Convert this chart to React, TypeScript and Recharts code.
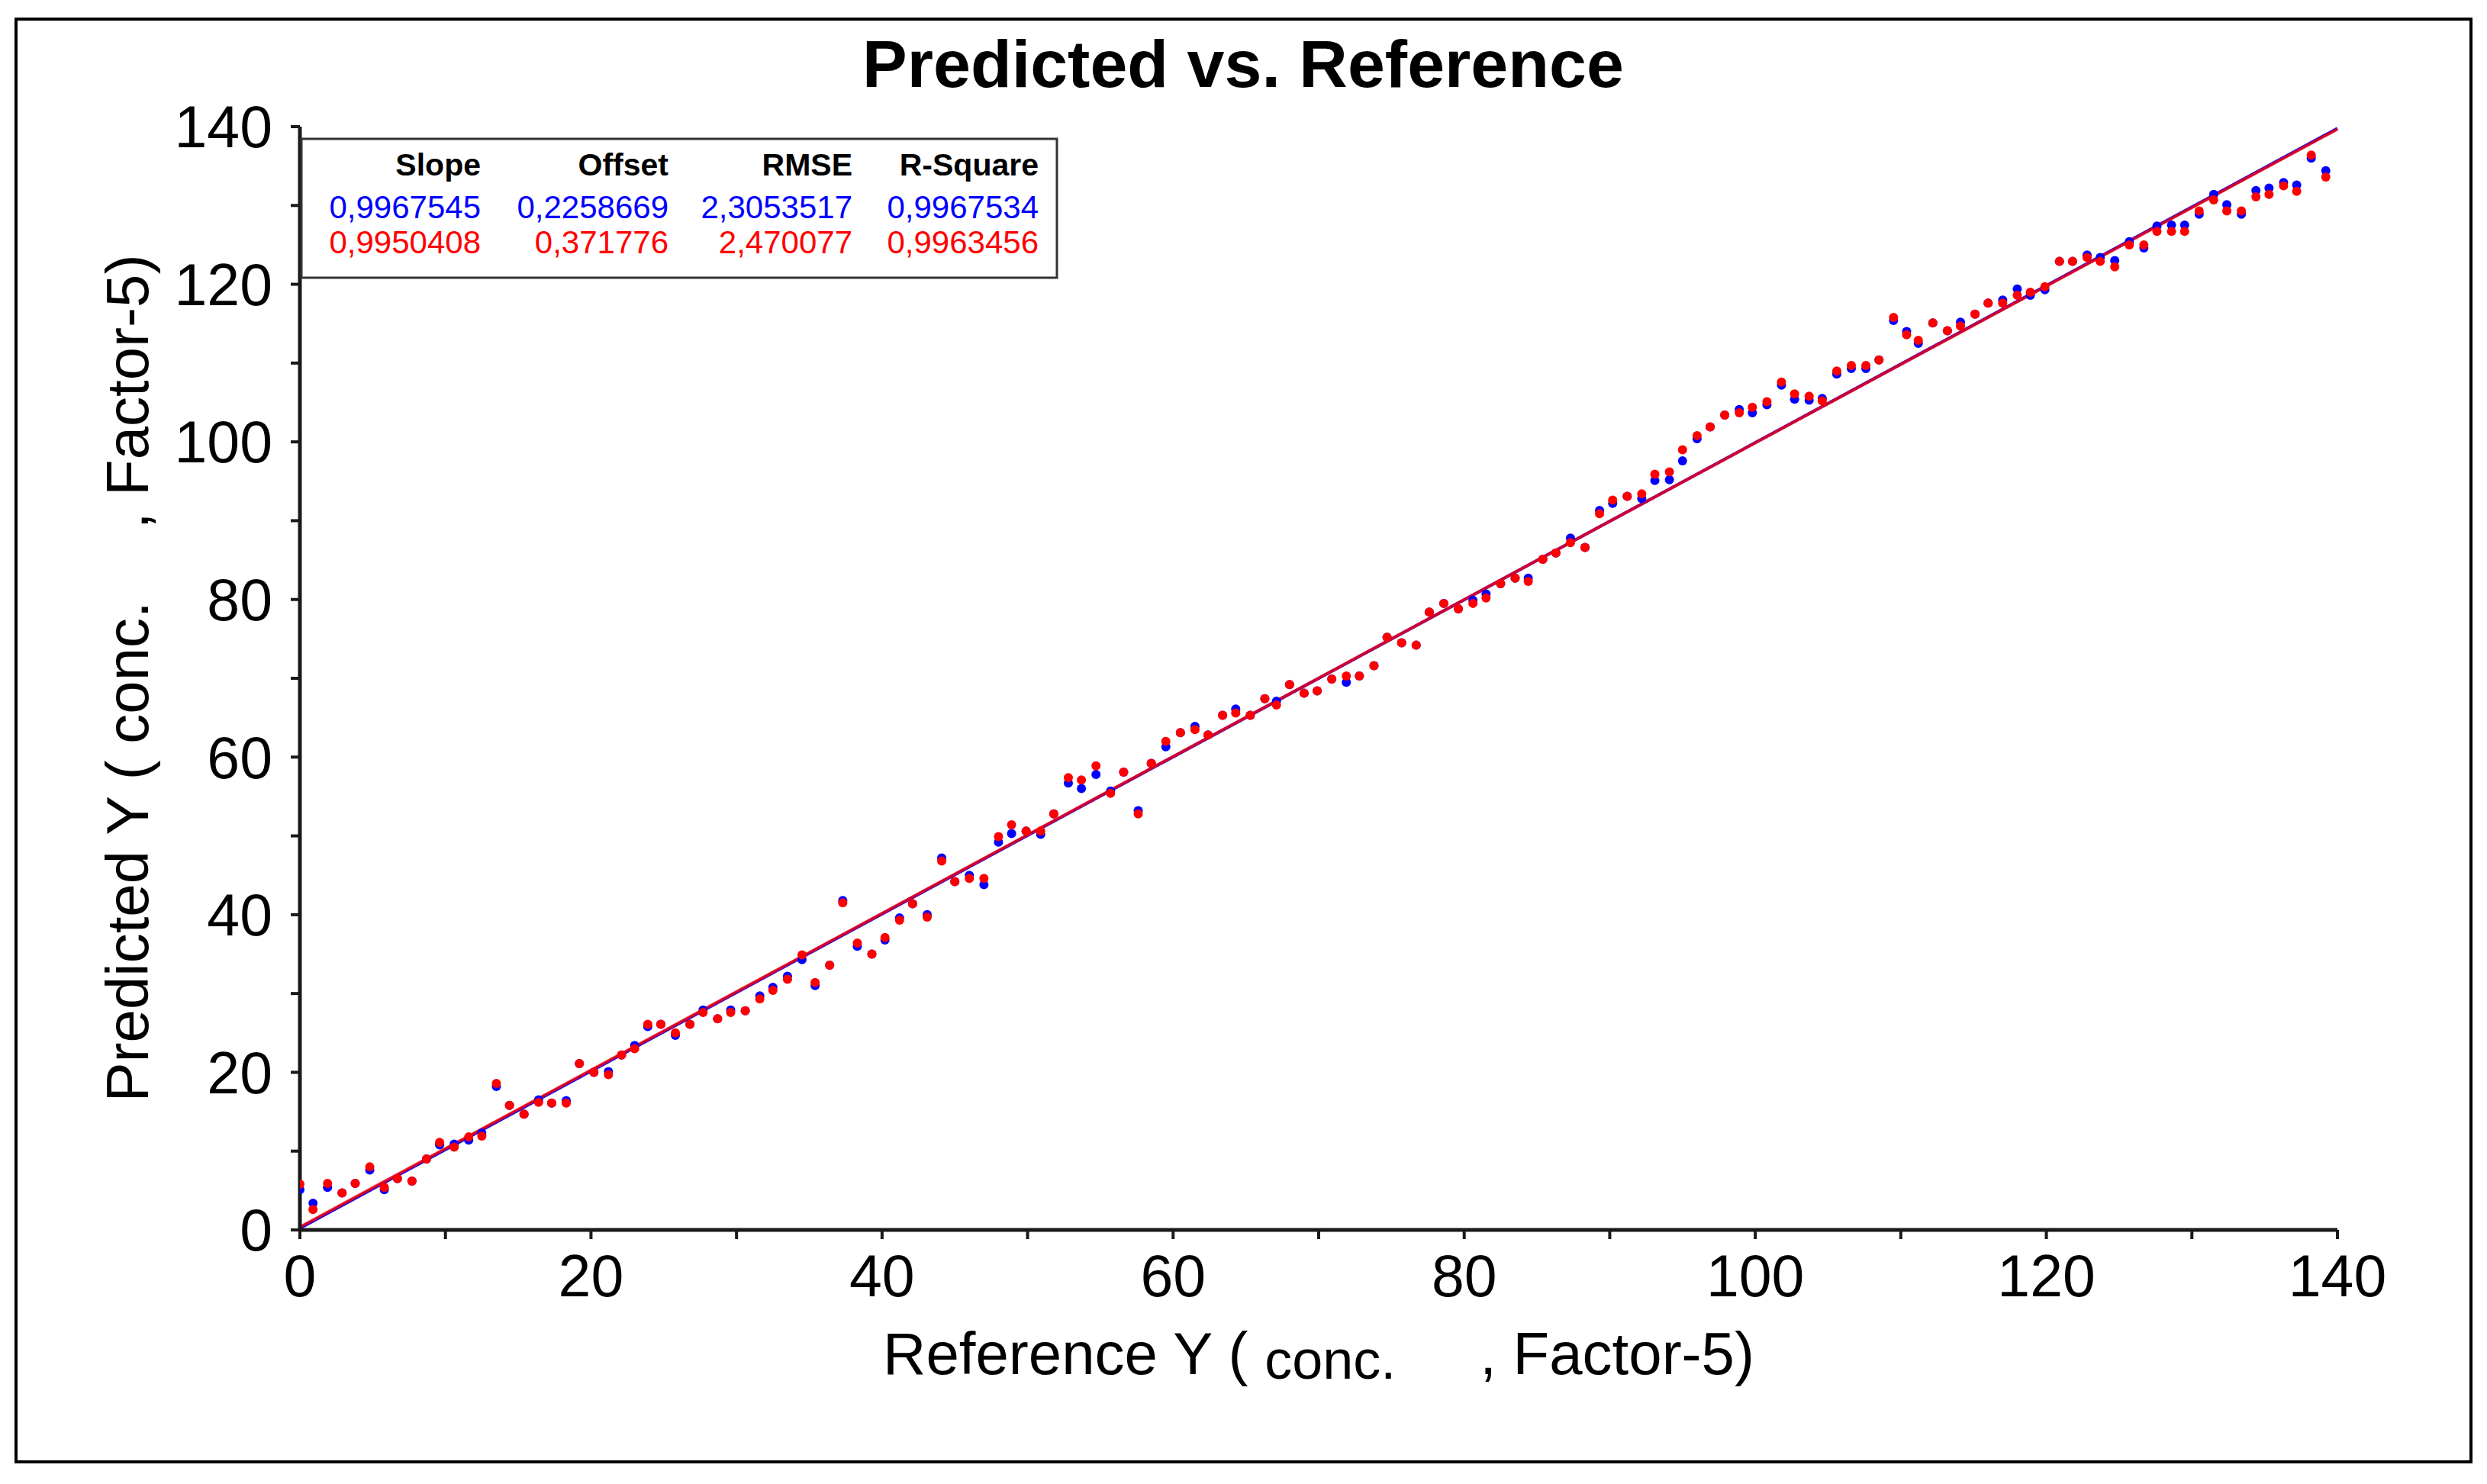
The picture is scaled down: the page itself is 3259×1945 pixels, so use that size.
import { ScatterChart, Scatter, XAxis, YAxis, ReferenceLine } from "recharts";

// reference values (x) and the two predictions (blue / red)
const refX = [
  0, 0.9, 1.9, 2.9, 3.8, 4.8, 5.8, 6.7, 7.7, 8.7, 9.6, 10.6, 11.6, 12.5, 13.5, 14.4, 15.4, 16.4, 17.3, 18.3, 19.2, 20.2, 21.2, 22.1, 23.0,
  23.9, 24.8, 25.8, 26.8, 27.7, 28.7, 29.6, 30.6, 31.6, 32.5, 33.5, 34.5, 35.4, 36.4, 37.3, 38.3, 39.3, 40.2, 41.2, 42.1, 43.1, 44.1, 45.0, 46.0,
  47.0, 48.0, 48.9, 49.9, 50.9, 51.8, 52.8, 53.7, 54.7, 55.7, 56.6, 57.6, 58.5, 59.5, 60.5, 61.5, 62.4, 63.4, 64.3, 65.3, 66.3, 67.1, 68.0, 69.0, 69.9,
  70.9, 71.9, 72.8, 73.8, 74.7, 75.7, 76.7, 77.6, 78.6, 79.6, 80.6, 81.5, 82.5, 83.5, 84.4, 85.4, 86.3, 87.3, 88.3, 89.3, 90.2, 91.2, 92.2, 93.1,
  94.1, 95.0, 96.0, 96.9, 97.9, 98.9, 99.8, 100.8, 101.8, 102.7, 103.7, 104.6, 105.6, 106.6, 107.6, 108.5, 109.5, 110.4, 111.2, 112.2, 113.2, 114.1, 115.1, 116.0, 117.0,
  118.0, 118.9, 119.9, 120.9, 121.8, 122.8, 123.7, 124.7, 125.7, 126.7, 127.6, 128.6, 129.5, 130.5, 131.5, 132.4, 133.4, 134.4, 135.3, 136.3, 137.2, 138.2, 139.2,
];

const predBlue = [
  5.1, 3.4, 5.4, 4.7, 5.9, 7.6, 5.1, 6.5, 6.2, 9.0, 10.8, 10.9, 11.4, 12.3, 18.2, 15.8, 14.7, 16.5, 16.1, 16.4, 21.1, 20.0, 20.1, 22.2, 23.4,
  25.8, 26.1, 24.7, 26.1, 27.9, 26.8, 27.9, 27.8, 29.7, 30.8, 32.2, 34.3, 31.0, 33.6, 41.8, 36.0, 35.0, 36.8, 39.6, 41.4, 40.0, 47.2, 44.2, 45.0,
  43.8, 49.2, 50.3, 50.6, 50.2, 52.8, 56.7, 56.0, 57.8, 55.7, 58.1, 53.2, 59.2, 61.3, 63.1, 63.9, 62.8, 65.3, 66.1, 65.3, 67.4, 67.1, 69.2, 68.1, 68.4,
  69.9, 69.5, 70.3, 71.6, 75.2, 74.5, 74.2, 78.4, 79.5, 78.8, 79.9, 80.7, 82.0, 82.7, 82.7, 85.1, 85.9, 87.8, 86.6, 91.3, 92.2, 93.1, 92.8, 95.1,
  95.2, 97.6, 100.4, 101.9, 103.4, 104.1, 103.7, 104.7, 107.2, 105.4, 105.3, 105.5, 108.6, 109.3, 109.3, 110.4, 115.4, 114.0, 112.5, 115.1, 114.1, 115.2, 116.2, 117.6, 118.0,
  119.4, 118.6, 119.3, 122.9, 122.9, 123.7, 123.4, 123.0, 125.4, 124.6, 127.4, 127.5, 127.5, 128.9, 131.4, 130.1, 128.9, 131.9, 132.2, 132.9, 132.6, 136.0, 134.4,
];

const predRed = [
  5.8, 2.6, 5.9, 4.7, 5.9, 8.0, 5.4, 6.5, 6.2, 9.0, 11.1, 10.5, 11.8, 11.9, 18.6, 15.8, 14.7, 16.2, 16.1, 16.1, 21.1, 20.0, 19.7, 22.2, 23.0,
  26.1, 26.1, 25.0, 26.1, 27.6, 26.8, 27.6, 27.8, 29.3, 30.4, 31.8, 34.9, 31.4, 33.6, 41.5, 36.4, 35.0, 37.1, 39.3, 41.4, 39.7, 46.8, 44.2, 44.6,
  44.6, 49.9, 51.4, 50.6, 50.6, 52.8, 57.4, 57.1, 58.9, 55.4, 58.1, 52.8, 59.2, 62.0, 63.1, 63.5, 62.8, 65.3, 65.6, 65.3, 67.4, 66.6, 69.2, 68.1, 68.4,
  69.9, 70.3, 70.3, 71.6, 75.2, 74.5, 74.2, 78.4, 79.5, 78.8, 79.5, 80.2, 82.0, 82.7, 82.3, 85.1, 85.9, 87.2, 86.6, 90.9, 92.6, 93.1, 93.4, 95.9,
  96.2, 99.0, 100.8, 101.9, 103.4, 103.7, 104.4, 105.1, 107.6, 106.1, 105.8, 105.2, 109.0, 109.7, 109.7, 110.4, 115.8, 113.6, 112.9, 115.1, 114.1, 114.7, 116.2, 117.6, 117.6,
  118.6, 119.0, 119.7, 122.9, 122.9, 123.4, 122.9, 122.2, 125.0, 125.0, 126.7, 126.7, 126.7, 129.3, 130.7, 129.3, 129.3, 131.1, 131.4, 132.5, 131.8, 136.4, 133.6,
];

// regression lines, end points
const blueFit = [{ x: 0, y: 0.23 }, { x: 140, y: 139.77 }];
const redFit = [{ x: 0, y: 0.37 }, { x: 140, y: 139.68 }];

const axisTicks = [0, 10, 20, 30, 40, 50, 60, 70, 80, 90, 100, 110, 120, 130, 140];

const statHeaders = ["Slope", "Offset", "RMSE", "R-Square"];
const blueStats = ["0,9967545", "0,2258669", "2,3053517", "0,9967534"];
const redStats = ["0,9950408", "0,371776", "2,470077", "0,9963456"];

const W = 3259;
const H = 1945;
const PLOT_LEFT = 393;
const PLOT_RIGHT = 3063;
const PLOT_TOP = 166;
const PLOT_BOTTOM = 1612;
const Y_AXIS_W = 200;
const X_AXIS_H = 200;

const FONT = "'Liberation Sans', Arial, Helvetica, sans-serif";
const AXIS = "#1a1a1a";

const blueData = refX.map((x, i) => ({ x, y: predBlue[i] }));
const redData = refX.map((x, i) => ({ x, y: predRed[i] }));

const statCols = [630, 876, 1117, 1361];

function XTitle() {
  return (
    <text x={(PLOT_LEFT + PLOT_RIGHT) / 2} y={PLOT_BOTTOM + 189} textAnchor="middle" fontFamily={FONT} fontSize={78} fill="#000">
      Reference Y ({" "}
      <tspan fontSize={72} dy={6}>conc.</tspan>
      <tspan dx={110} dy={-6}>, Factor-5)</tspan>
    </text>
  );
}

function YTitle() {
  const cx = 194;
  const cy = (PLOT_TOP + PLOT_BOTTOM) / 2;
  return (
    <text x={cx} y={cy} transform={`rotate(-90 ${cx} ${cy})`} textAnchor="middle" fontFamily={FONT} fontSize={78} fill="#000">
      Predicted Y ( conc.
      <tspan dx={95}>, Factor-5)</tspan>
    </text>
  );
}

export default function App() {
  const tickFmt = (v: number) => (v % 20 === 0 ? String(v) : "");

  return (
    <div style={{ position: "absolute", left: 0, top: 0, width: W, height: H, background: "#fff" }}>
      <ScatterChart
        width={W}
        height={H}
        margin={{ top: PLOT_TOP, right: W - PLOT_RIGHT, left: PLOT_LEFT - Y_AXIS_W, bottom: H - PLOT_BOTTOM - X_AXIS_H }}
      >
        <XAxis
          type="number"
          dataKey="x"
          domain={[0, 140]}
          ticks={axisTicks}
          interval={0}
          allowDataOverflow
          height={X_AXIS_H}
          tickFormatter={tickFmt}
          tickSize={12}
          tickMargin={20}
          tick={{ fontSize: 77, fill: "#000", fontFamily: FONT }}
          axisLine={{ stroke: AXIS, strokeWidth: 5 }}
          tickLine={{ stroke: AXIS, strokeWidth: 4 }}
          label={<XTitle />}
        />
        <YAxis
          type="number"
          dataKey="y"
          domain={[0, 140]}
          ticks={axisTicks}
          interval={0}
          allowDataOverflow
          width={Y_AXIS_W}
          tickFormatter={tickFmt}
          tickSize={12}
          tickMargin={24}
          tick={{ fontSize: 77, fill: "#000", fontFamily: FONT }}
          axisLine={{ stroke: AXIS, strokeWidth: 5 }}
          tickLine={{ stroke: AXIS, strokeWidth: 4 }}
          label={<YTitle />}
        />
        <ReferenceLine segment={blueFit} stroke="#0000FF" strokeWidth={4} ifOverflow="visible" />
        <ReferenceLine segment={redFit} stroke="#FF0000" strokeOpacity={0.8} strokeWidth={4} ifOverflow="visible" />
        <Scatter
          data={blueData}
          fill="#0000FF"
          isAnimationActive={false}
          shape={(p: any) => <circle cx={p.cx} cy={p.cy} r={6} fill="#0000FF" />}
        />
        <Scatter
          data={redData}
          fill="#FF0000"
          isAnimationActive={false}
          shape={(p: any) => <circle cx={p.cx} cy={p.cy} r={6} fill="#FF0000" />}
        />
      </ScatterChart>

      <svg width={W} height={H} style={{ position: "absolute", left: 0, top: 0, pointerEvents: "none" }}>
        <rect x={21} y={25} width={3217} height={1891} fill="none" stroke="#000" strokeWidth={4} />
        <text x={1629} y={114} textAnchor="middle" fontFamily={FONT} fontSize={88} fontWeight="bold" fill="#000">
          Predicted vs. Reference
        </text>
        <rect x={395} y={182} width={990} height={182} fill="#fff" stroke="#333" strokeWidth={3} />
        {statHeaders.map((t, i) => (
          <text key={t} x={statCols[i]} y={230} textAnchor="end" fontFamily={FONT} fontSize={41} fontWeight="bold" fill="#000">
            {t}
          </text>
        ))}
        {blueStats.map((t, i) => (
          <text key={"b" + i} x={statCols[i]} y={286} textAnchor="end" fontFamily={FONT} fontSize={42} fill="#0000FF">
            {t}
          </text>
        ))}
        {redStats.map((t, i) => (
          <text key={"r" + i} x={statCols[i]} y={332} textAnchor="end" fontFamily={FONT} fontSize={42} fill="#FF0000">
            {t}
          </text>
        ))}
      </svg>
    </div>
  );
}
